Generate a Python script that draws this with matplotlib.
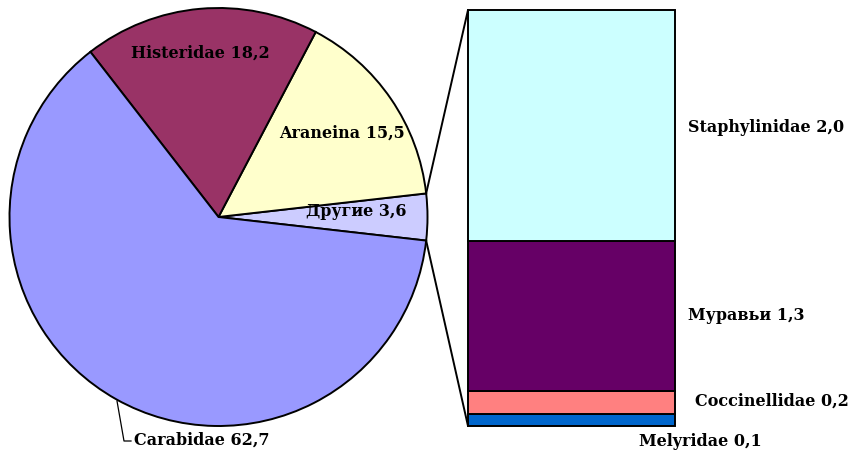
import math
import matplotlib
matplotlib.use("Agg")
import matplotlib.pyplot as plt
from matplotlib.patches import ConnectionPatch

# Pie: main groups (share, %)
pie_labels = ["Другие", "Araneina", "Histeridae", "Carabidae"]
pie_values = [3.6, 15.5, 18.2, 62.7]
pie_colors = ["#CCCCFF", "#FFFFCC", "#993366", "#9999FF"]

# Bar: breakdown of "Другие"
bar_labels = ["Melyridae", "Coccinellidae", "Муравьи", "Staphylinidae"]
bar_values = [0.1, 0.2, 1.3, 2.0]
bar_colors = ["#0066CC", "#FF8080", "#660066", "#CCFFFF"]

W, H = 853, 455
fig = plt.figure(figsize=(W / 100, H / 100), dpi=100)
font = dict(family=["DejaVu Serif"], fontweight="bold", fontsize=11.5, color="black")

def fmt(v):
    return f"{v:.1f}".replace(".", ",")

# --- pie axes (square, in pixels) ---
cx, cy, r = 218.5, 217, 209
pax = fig.add_axes([(cx - r) / W, (H - cy - r) / H, 2 * r / W, 2 * r / H])
start = -pie_values[0] / 100 * 360 / 2
wedges, _ = pax.pie(pie_values, colors=pie_colors, startangle=start, radius=1,
                    counterclock=True,
                    wedgeprops=dict(edgecolor="black", linewidth=1.4))
pax.set_xlim(-1, 1)
pax.set_ylim(-1, 1)
pax.axis("off")

def to_pie(px, py):
    return (px - cx) / r, (cy - py) / r

label_pos = {
    "Histeridae": (200, 53, "center"),
    "Araneina": (342, 133, "center"),
    "Другие": (356, 212, "center"),
}
for name, val in zip(pie_labels, pie_values):
    if name in label_pos:
        px, py, ha = label_pos[name]
        x, y = to_pie(px, py)
        pax.text(x, y, f"{name} {fmt(val)}", ha=ha, va="center", **font)

# Carabidae label outside with leader line
carab = pie_labels.index("Carabidae")
lx0, ly0 = to_pie(117, 401)
lx1, ly1 = to_pie(124, 441)
lx2, ly2 = to_pie(131, 441)
pax.plot([lx0, lx1, lx2], [ly0, ly1, ly2], color="black", lw=0.9, clip_on=False)
tx, ty = to_pie(134, 440)
pax.text(tx, ty, f"{pie_labels[carab]} {fmt(pie_values[carab])}", ha="left",
         va="center", clip_on=False, **font)

# --- bar axes ---
bx0, bx1, by0, by1 = 468, 675, 10, 426
bax = fig.add_axes([bx0 / W, (H - by1) / H, (bx1 - bx0) / W, (by1 - by0) / H])
total = sum(bar_values)
bax.set_xlim(0, 1)
bax.set_ylim(0, total)
bax.axis("off")
bottom = 0
for name, val, col in zip(bar_labels, bar_values, bar_colors):
    bax.bar(0.5, val, width=1, bottom=bottom, color=col, edgecolor="black",
            linewidth=1.4, clip_on=False)
    bottom += val

# bar labels (pixel positions of left edge)
bar_label_pos = {
    "Staphylinidae": (688, 128),
    "Муравьи": (688, 316),
    "Coccinellidae": (695, 401),
    "Melyridae": (639, 441),
}
for name, val in zip(bar_labels, bar_values):
    px, py = bar_label_pos[name]
    fig.text(px / W, (H - py) / H, f"{name} {fmt(val)}", ha="left", va="center",
             **font)

# connector lines between the "Другие" wedge and the bar
theta = pie_values[0] / 100 * 360 / 2
for sgn, ybar in [(1, total), (-1, 0)]:
    ang = math.radians(sgn * theta)
    con = ConnectionPatch(xyA=(math.cos(ang), math.sin(ang)), coordsA=pax.transData,
                          xyB=(0, ybar), coordsB=bax.transData,
                          color="black", lw=1.4)
    fig.add_artist(con)

fig.savefig("out.png", dpi=100, facecolor="white")
